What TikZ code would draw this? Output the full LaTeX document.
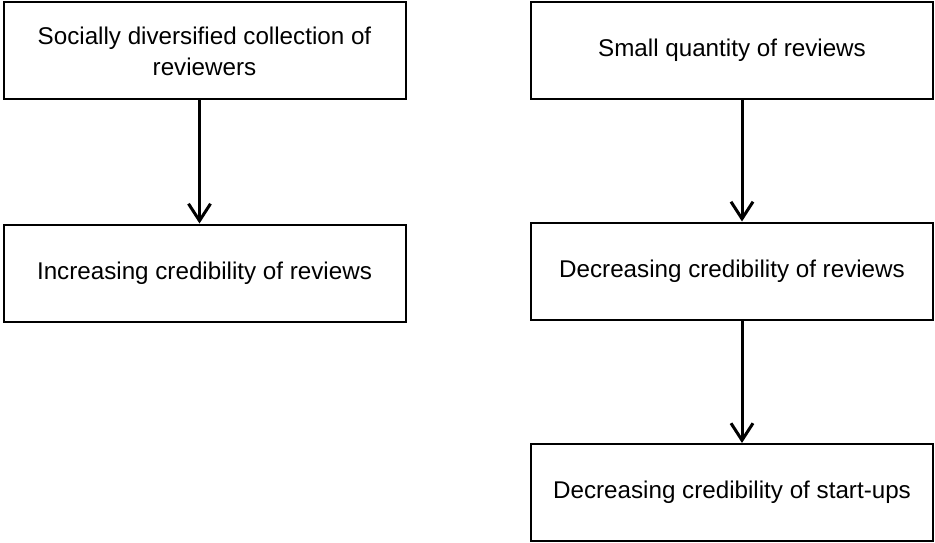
\documentclass[tikz,border=0pt]{standalone}
\usepackage{fontspec}
\setmainfont{Liberation Sans}
\usetikzlibrary{arrows.meta}
\begin{document}
\begin{tikzpicture}[x=1pt,y=-1pt,
  box/.style={draw=black, line width=2pt, minimum width=402pt, minimum height=97pt,
    inner sep=0pt, align=center, font=\fontsize{24.2}{31}\selectfont},
  conn/.style={line width=3pt, -{Straight Barb[length=17pt,width=22pt]}}]
\useasboundingbox (0,0) rectangle (935,543);
\node[box] (L1) at (204.5,51) {Socially diversified collection of\\reviewers};
\node[box] (L2) at (204.5,273) {Increasing credibility of reviews};
\node[box] (R1) at (732,50.5) {Small quantity of reviews};
\node[box] (R2) at (732,271) {Decreasing credibility of reviews};
\node[box] (R3) at (732,492.5) {Decreasing credibility of start-ups};
\draw[conn] ([xshift=-5pt]L1.south) -- ([xshift=-5pt]L2.north);
\draw[conn] ([xshift=10pt]R1.south) -- ([xshift=10pt]R2.north);
\draw[conn] ([xshift=10pt]R2.south) -- ([xshift=10pt]R3.north);
\end{tikzpicture}
\end{document}
